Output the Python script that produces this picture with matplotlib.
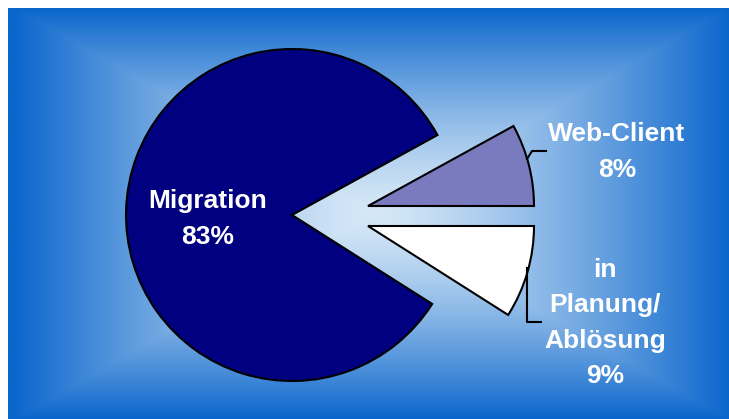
import numpy as np
import matplotlib.pyplot as plt

# data
labels = ["Web-Client", "Migration", "in\nPlanung/\nAblösung"]
shares = [8, 83, 9]
pct_labels = ["8%", "83%", "9%"]
slice_colors = ["#7a7abf", "#000080", "#ffffff"]

W, H = 729, 419
fig = plt.figure(figsize=(W / 100, H / 100), dpi=100)
ax = fig.add_axes([0, 0, 1, 1])

# rectangular "from centre" gradient background
x0, x1, ytop, ybot = 8, W, 9, H
cx, cy = 372, 214
xs = np.arange(x0, x1) + 0.5
ys = np.arange(ytop, ybot) + 0.5
X, Y = np.meshgrid(xs, ys)
t = np.maximum(np.abs(X - cx) / (x1 - cx), np.abs(Y - cy) / (ybot - cy))
t = np.clip(t, 0, 1) ** 1.35
inner = np.array([214, 232, 247]) / 255
outer = np.array([11, 102, 204]) / 255
img = inner + (outer - inner) * t[..., None]
ax.imshow(img, extent=(x0, x1, H - ybot, H - ytop), origin="upper",
          interpolation="bilinear", zorder=0)

# pie
wedges, _ = ax.pie(shares, startangle=0, counterclock=True, radius=166,
                   center=(292, H - 215), colors=slice_colors,
                   wedgeprops=dict(edgecolor="black", linewidth=1.5))
wedges[0].set_center((368, H - 206))
wedges[2].set_center((368, H - 226))
for w in wedges:
    w.set_zorder(2)

# leader lines
ax.plot([527, 532, 546], [H - 159, H - 151, H - 151], color="black", lw=1.5, zorder=3)
ax.plot([527, 527, 541], [H - 268, H - 322, H - 322], color="black", lw=1.5, zorder=3)

fnt = dict(color="white", fontsize=19, fontweight="bold",
           family="Liberation Sans", ha="center", va="center",
           linespacing=1.58, zorder=4)
ax.text(208, H - 219, labels[1] + "\n" + pct_labels[1], **fnt)
ax.text(617, H - 152, labels[0] + "\n" + pct_labels[0], **fnt)
ax.text(605, H - 323, labels[2] + "\n" + pct_labels[2], **fnt)

ax.set_xlim(0, W)
ax.set_ylim(0, H)
ax.set_aspect("auto")
ax.axis("off")

fig.savefig("out.png", dpi=100, facecolor="white")
